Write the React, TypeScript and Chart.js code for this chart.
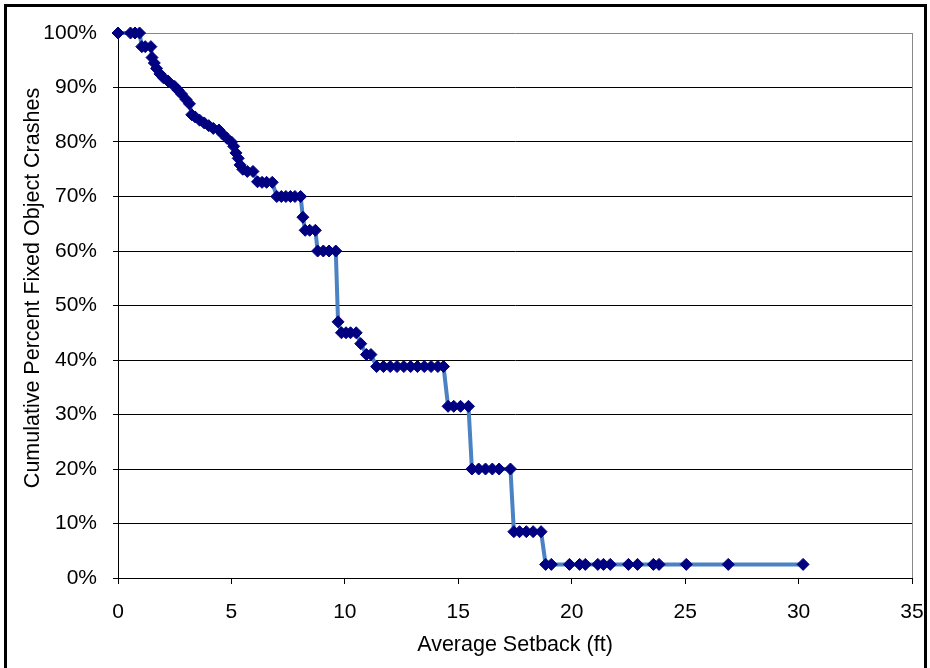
import React, { useEffect, useRef } from "react";
import { Chart, registerables } from "chart.js";

Chart.register(...registerables);

const setbackFt: number[] = [
  0, 0.55, 0.75, 0.95,
  1.05, 1.2, 1.45,
  1.5, 1.6, 1.7, 1.85, 2.0, 2.2, 2.5, 2.65, 2.8, 3.0, 3.15,
  3.25, 3.4, 3.6, 3.8, 4.0, 4.2, 4.45, 4.6, 4.8, 5.0, 5.1, 5.2, 5.3, 5.38,
  5.5, 5.7, 5.95,
  6.15, 6.35, 6.55, 6.8,
  7.0, 7.2, 7.4, 7.6, 7.8, 8.05,
  8.15,
  8.25, 8.45, 8.7,
  8.8, 9.05, 9.3, 9.6,
  9.7,
  9.85, 10.05, 10.25, 10.5,
  10.7,
  10.95, 11.15,
  11.4, 11.7, 12.0, 12.3, 12.6, 12.9, 13.2, 13.5, 13.8, 14.1, 14.35,
  14.55, 14.8, 15.1, 15.45,
  15.6, 15.9, 16.2, 16.5, 16.8, 17.3,
  17.45, 17.7, 18.0, 18.3, 18.65,
  18.85, 19.1, 19.9, 20.35, 20.6, 21.15, 21.4, 21.7, 22.5, 22.9, 23.6, 23.85, 25.05, 26.9, 30.2,
];

const cumulativePct: number[] = [
  100, 100, 100, 100,
  97.5, 97.5, 97.5,
  95.5, 94.5, 93.5, 92.5, 91.8, 91.2, 90.2, 89.5, 88.8, 87.8, 87,
  85, 84.6, 84, 83.5, 83, 82.5, 82.2, 81.5, 80.7, 80, 79.2, 78, 77, 75.8,
  75, 74.6, 74.6,
  72.7, 72.6, 72.6, 72.6,
  70, 70, 70, 70, 70, 70,
  66.2,
  63.8, 63.8, 63.8,
  60, 60, 60, 60,
  47,
  45, 45, 45, 45,
  43,
  41, 41,
  38.8, 38.8, 38.8, 38.8, 38.8, 38.8, 38.8, 38.8, 38.8, 38.8, 38.8,
  31.5, 31.5, 31.5, 31.5,
  20, 20, 20, 20, 20, 20,
  8.5, 8.5, 8.5, 8.5, 8.5,
  2.5, 2.5, 2.5, 2.5, 2.5, 2.5, 2.5, 2.5, 2.5, 2.5, 2.5, 2.5, 2.5, 2.5, 2.5,
];

const xTitle = "Average Setback (ft)";
const yTitle = "Cumulative Percent Fixed Object Crashes";

const FONT = "'Liberation Sans', Arial, sans-serif";

const plotBorder = {
  id: "plotBorder",
  beforeDatasetsDraw(chart: any) {
    const { ctx, chartArea } = chart;
    ctx.save();
    ctx.strokeStyle = "#888888";
    ctx.lineWidth = 1;
    ctx.beginPath();
    ctx.moveTo(Math.round(chartArea.right) + 0.5, chartArea.top);
    ctx.lineTo(Math.round(chartArea.right) + 0.5, chartArea.bottom);
    ctx.stroke();
    ctx.restore();
  },
  afterDraw(chart: any) {
    const { ctx } = chart;
    ctx.save();
    ctx.translate(33, 288);
    ctx.rotate(-Math.PI / 2);
    ctx.textAlign = "center";
    ctx.textBaseline = "middle";
    ctx.fillStyle = "#000";
    ctx.font = "21.5px " + FONT;
    ctx.fillText(yTitle, 0, 0);
    ctx.restore();
  },
};

export default function App() {
  const ref = useRef<HTMLCanvasElement | null>(null);
  useEffect(() => {
    if (!ref.current) return;
    const points = setbackFt.map((x, i) => ({ x, y: cumulativePct[i] }));
    const chart = new Chart(ref.current, {
      type: "scatter",
      data: {
        datasets: [
          {
            data: points,
            showLine: true,
            clip: false,
            borderColor: "#4a82c3",
            borderWidth: 4,
            pointStyle: "rectRot",
            pointRadius: 6,
            pointBackgroundColor: "#000080",
            pointBorderColor: "#000080",
            pointBorderWidth: 1,
            tension: 0,
          },
        ],
      },
      options: {
        responsive: false,
        animation: false,
        layout: { padding: { left: 0, top: 33, right: 18, bottom: 0 } },
        plugins: { legend: { display: false }, tooltip: { enabled: false } },
        scales: {
          x: {
            type: "linear",
            min: 0,
            max: 35,
            ticks: {
              stepSize: 5,
              color: "#000",
              padding: 16,
              font: { family: FONT, size: 21 },
              maxRotation: 0,
            },
            grid: { drawOnChartArea: false, drawTicks: true, tickLength: 6, color: "#000" },
            border: { display: true, color: "#000", width: 1 },
            title: {
              display: true,
              text: xTitle,
              color: "#000",
              font: { family: FONT, size: 21.5 },
              padding: { top: 0, bottom: 10 },
            },
            afterFit: (s: any) => {
              s.height = 90;
              s.paddingLeft = 0;
              s.paddingRight = 0;
            },
          },
          y: {
            min: 0,
            max: 100,
            ticks: {
              stepSize: 10,
              color: "#000",
              padding: 16,
              font: { family: FONT, size: 21 },
              callback: (v: any) => v + "%",
            },
            grid: {
              drawTicks: true,
              tickLength: 5,
              color: (c: any) => (c.tick && c.tick.value === 100 ? "#888888" : "#000"),
            },
            border: { display: true, color: "#000", width: 1 },
            title: { display: false },
            afterFit: (s: any) => {
              s.width = 118;
              s.paddingTop = 0;
              s.paddingBottom = 0;
            },
          },
        },
      },
      plugins: [plotBorder],
    });
    return () => chart.destroy();
  }, []);

  return (
    <div style={{ position: "fixed", left: 0, top: 0, width: 930, height: 668, background: "#fff", overflow: "hidden" }}>
      <canvas ref={ref} width={930} height={668} style={{ position: "absolute", left: 0, top: 0 }} />
      <div
        style={{
          position: "absolute",
          left: 4,
          top: 4,
          width: 923,
          height: 720,
          border: "3px solid #000",
          boxSizing: "border-box",
          pointerEvents: "none",
        }}
      />
    </div>
  );
}
